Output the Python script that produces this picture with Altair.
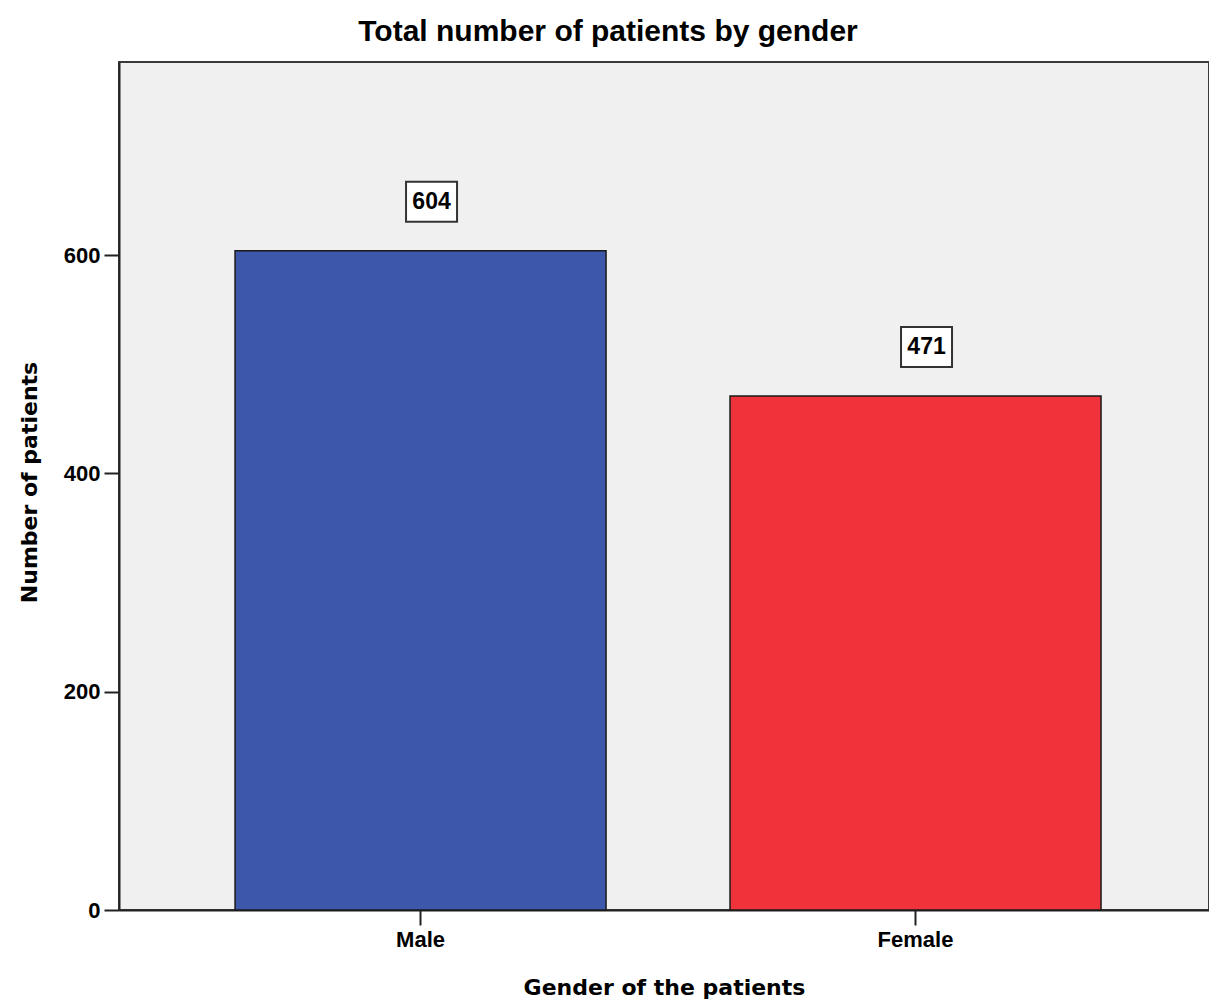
import altair as alt
import pandas as pd

genders = ["Male", "Female"]
patients = [604, 471]
bar_colors = ["#3D57AA", "#F0323A"]

df = pd.DataFrame({"gender": genders, "patients": patients})

x_enc = alt.X("gender:N", sort=genders,
              scale=alt.Scale(paddingInner=0.2505, paddingOuter=0.2263, align=0.518),
              axis=alt.Axis(title="Gender of the patients", labelAngle=0,
                            labelFont="Liberation Sans", labelFontWeight="bold",
                            labelFontSize=22, labelColor="#000", labelPadding=4,
                            labelBaseline="top",
                            tickSize=15, tickColor="#222", tickWidth=2,
                            domainColor="#222", domainWidth=2,
                            titleFont="DejaVu Sans", titleFontWeight="bold",
                            titleFontSize=22, titleColor="#000",
                            titleBaseline="alphabetic", titleY=84))
y_enc = alt.Y("patients:Q",
              scale=alt.Scale(domain=[0, 777], nice=False),
              axis=alt.Axis(title="Number of patients", values=[0, 200, 400, 600],
                            grid=False, labelFont="Liberation Sans",
                            labelFontWeight="bold", labelFontSize=22,
                            labelColor="#000", labelPadding=4,
                            tickSize=15, tickColor="#222", tickWidth=2,
                            domainColor="#222", domainWidth=2,
                            titleFont="DejaVu Sans", titleFontWeight="bold",
                            titleFontSize=22, titleColor="#000",
                            titleBaseline="alphabetic", titleAngle=-90,
                            titleAlign="center", titleX=-83, titleY=420))

bars = alt.Chart(df).mark_bar(stroke="#1a1a1a", strokeWidth=1.5).encode(
    x=x_enc, y=y_enc,
    color=alt.Color("gender:N", sort=genders,
                    scale=alt.Scale(domain=genders, range=bar_colors), legend=None),
)

boxes = alt.Chart(df).mark_point(
    shape="M-1.275,-1L1.275,-1L1.275,1L-1.275,1Z", size=1600,
    filled=True, fill="white", stroke="#333", strokeWidth=2, opacity=1,
    xOffset=11, yOffset=-49,
).encode(x=alt.X("gender:N", sort=genders), y="patients:Q")

labels = alt.Chart(df).mark_text(
    font="Liberation Sans", fontWeight="bold", fontSize=23, color="#000",
    xOffset=11, yOffset=-49, baseline="middle", align="center",
).encode(x=alt.X("gender:N", sort=genders), y="patients:Q", text="patients:Q")

chart = alt.layer(bars, boxes, labels).properties(
    width=1090, height=848,
    background="white",
    title=alt.TitleParams("Total number of patients by gender",
                          font="Liberation Sans", fontSize=30,
                          fontWeight="bold", color="#000", anchor="middle",
                          dx=-56, dy=31, offset=22, baseline="alphabetic"),
    autosize=alt.AutoSizeParams(type="none"),
    padding={"left": 111, "top": 54, "right": 0, "bottom": 90},
).configure_view(
    fill="#F0F0F0", stroke="#3a3a3a", strokeWidth=2
)

chart.save("out.html", embed_options={"renderer": "svg", "actions": False})
